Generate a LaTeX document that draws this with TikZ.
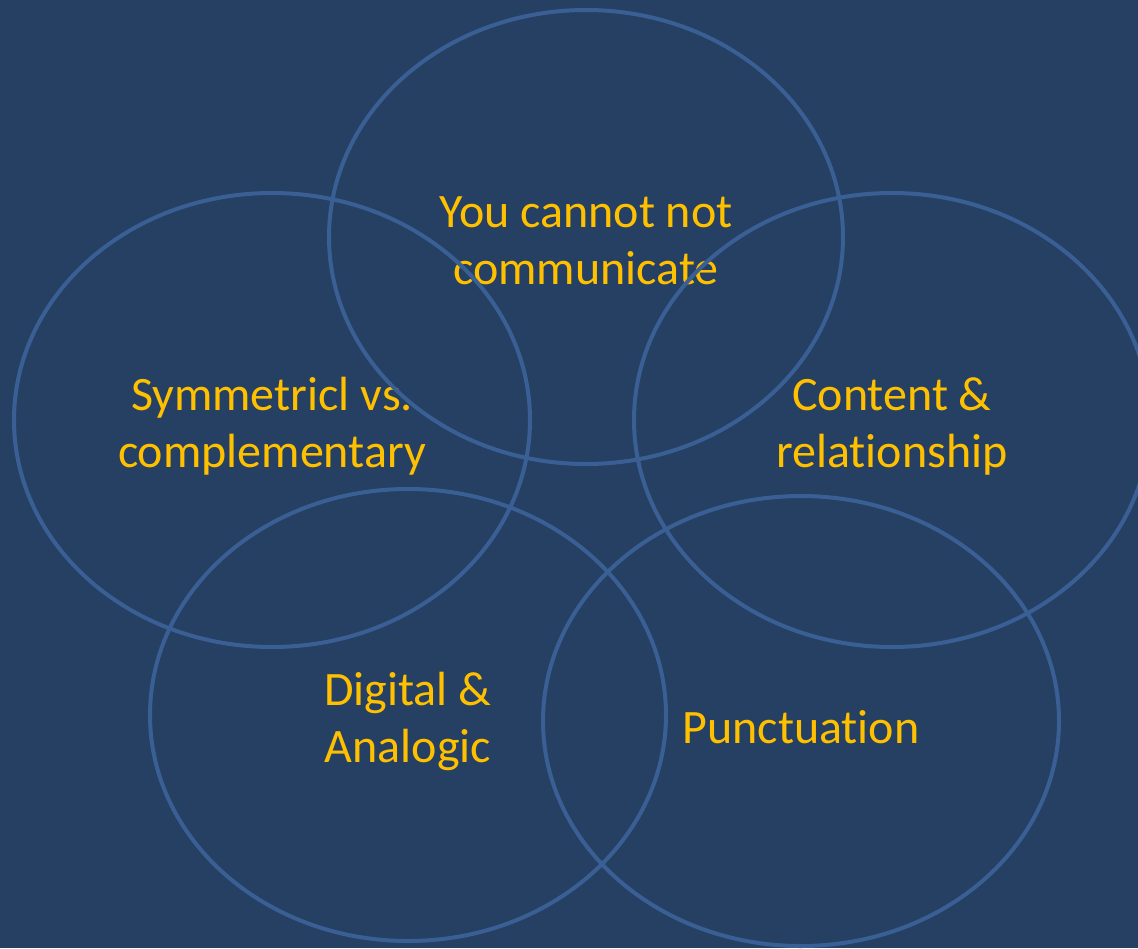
\documentclass[tikz,border=0pt]{standalone}
\usepackage{fontspec}
\setmainfont[Ligatures=NoCommon]{Carlito}
\definecolor{bgblue}{HTML}{264063}
\definecolor{ringblue}{HTML}{3A5F94}
\definecolor{gold}{HTML}{FFC000}
\begin{document}
\begin{tikzpicture}[x=1pt,y=-1pt,
  label/.style={text=gold,align=center,font=\fontsize{48}{57}\selectfont,inner sep=0pt},
  ring/.style={draw=ringblue,line width=4pt}]
\fill[bgblue] (0,0) rectangle (1138,948);
\useasboundingbox (0,0) rectangle (1138,948);
% labels
\node[label] (t1) at (586,241) {You cannot not\\communicate};
\node[label] (t2) at (272,426) {Symmetricl vs.\\complementary};
\node[label] (t3) at (892,426) {Content \&\\relationship};
\node[label] (t4) at (408,721) {Digital \&\\Analogic};
\node[label] (t5) at (801,727) {Punctuation};
% overlapping rings
\begin{scope}
\clip (0,0) rectangle (1138,948);
\draw[ring] (586,237) ellipse [x radius=257, y radius=227];
\draw[ring] (272,420) ellipse [x radius=258, y radius=227];
\draw[ring] (892,420) ellipse [x radius=258, y radius=227];
\draw[ring] (408,715) ellipse [x radius=258, y radius=226];
\draw[ring] (801,721) ellipse [x radius=258, y radius=225];
\end{scope}
\end{tikzpicture}
\end{document}
